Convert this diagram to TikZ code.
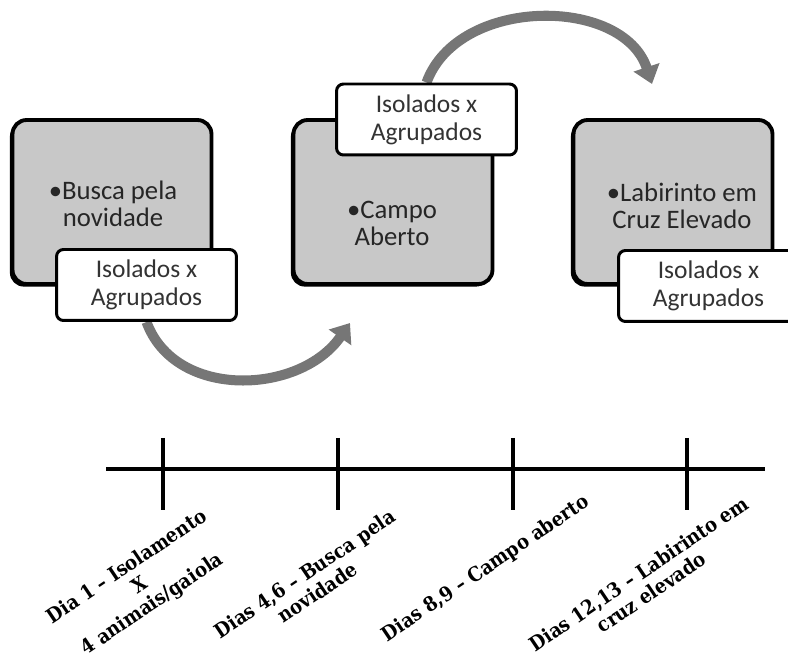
\documentclass[tikz,border=0pt]{standalone}
\usepackage{fontspec}
\setmainfont{Liberation Serif}
\newfontfamily\boxfont{Carlito}
\newfontfamily\dayfont{DejaVu Serif Condensed}
\usepackage{tikz}
\usetikzlibrary{
	arrows.meta,
	positioning,
	calc,
	shadows,
	backgrounds
}
\usepackage{xcolor}
\definecolor{boxgray}{RGB}{200,200,200}
\definecolor{arrowgray}{RGB}{118,118,118}

\begin{document}
\begin{tikzpicture}[
			x=0.02cm,y=0.02cm,
			graybox/.style={rectangle,rounded corners=8pt,draw=black,line width=2.2pt,fill=boxgray,
				minimum width=3.98cm,minimum height=3.28cm,inner sep=0pt,
				drop shadow={shadow xshift=-1.5pt,shadow yshift=-1.5pt,opacity=1,fill=black}},
			whitebox/.style={rectangle,rounded corners=4pt,draw=black,line width=1.7pt,fill=white,
				minimum width=3.6cm,minimum height=1.42cm,inner sep=0pt,align=center,
				font=\boxfont\fontsize{14.5pt}{15.8pt}\selectfont,text=black!80},
			boxtext/.style={align=center,inner sep=0pt,
				font=\boxfont\fontsize{15.2pt}{15.3pt}\selectfont,text=black!85},
			flow/.style={draw=arrowgray,line width=5.7pt,-{Triangle[width=15pt,length=10pt]}},
			axis/.style={draw=black,line width=2.3pt},
			daylabel/.style={align=center,inner sep=0pt,rotate=34,
				font=\dayfont\fontsize{11.4pt}{12.8pt}\selectfont\bfseries}
			]
			
			\clip (0,0) rectangle (788,-665);
			
			% Gray boxes
			\node[graybox] (g1) at (112,-202){};
			\node[graybox] (g2) at (393,-202){};
			\node[graybox] (g3) at (673,-202){};
			
			\node[boxtext] (c1) at (113,-204){•Busca pela\\novidade};
			\node[boxtext] (c2) at (392,-223){•Campo\\Aberto};
			\node[boxtext] (c3) at (682,-206){•Labirinto em\\Cruz Elevado};
			
			% White boxes
			\node[whitebox] (w1) at (146.5,-285){Isolados x\\Agrupados};
			\node[whitebox] (w2) at (426.5,-119.5){Isolados x\\Agrupados};
			\node[whitebox] (w3) at (708.5,-286){Isolados x\\Agrupados};
			
			% Curved arrows
			\coordinate (a1) at (350,-323);
			\coordinate (a2) at (652,-84);
			\begin{scope}[on background layer]
				\draw[flow] (w1.south) .. controls (175,-400) and (300,-395) .. (a1);
				\draw[flow] (w2.north) .. controls (458,4) and (623,4) .. (a2);
			\end{scope}
			
			% Timeline
			\coordinate (tl) at (106,-469);
			\coordinate (tr) at (765,-469);
			\draw[axis] (tl)--(tr);
			\foreach \x/\n in {163/1,338/2,513/3,687/4}
			{
				\coordinate (top\n) at (\x,-438);
				\coordinate (bot\n) at (\x,-510);
				\draw[axis] (top\n)--(bot\n);
			}
			
			% Day labels
			\node[daylabel] (d1) at (140,-586){Dia 1 – Isolamento\\X\\4 animais/gaiola};
			\node[daylabel] (d2) at (311,-583){Dias 4,6 – Busca pela\\novidade};
			\node[daylabel] (d3) at (486,-569){Dias 8,9 – Campo aberto};
			\node[daylabel] (d4) at (645,-583){Dias 12,13 – Labirinto em\\cruz elevado};
			
		\end{tikzpicture}
\end{document}
